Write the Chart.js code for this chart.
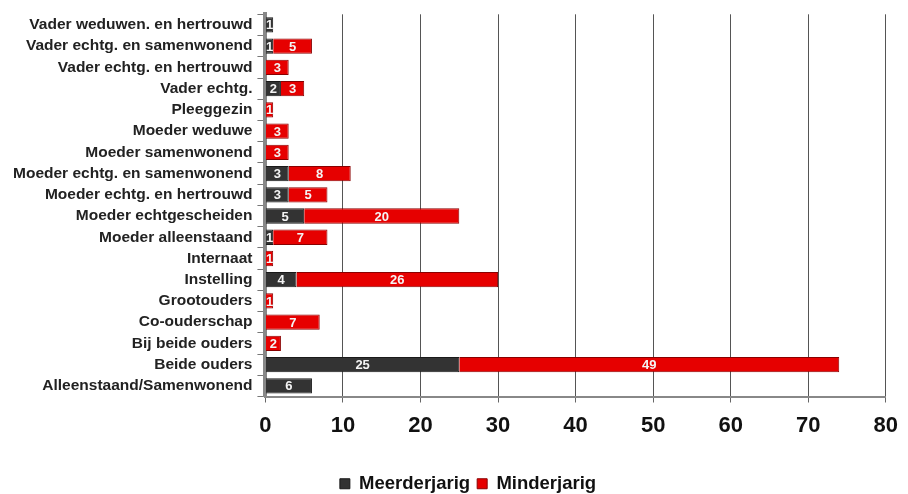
<!DOCTYPE html>
<html>
<head>
<meta charset="utf-8">
<script src="https://cdn.jsdelivr.net/npm/chart.js@4/dist/chart.umd.min.js"></script>
<style>
  html, body { margin: 0; padding: 0; background: #fff; }
  #wrap { width: 908px; height: 494px; position: relative; }
</style>
</head>
<body>
<div id="wrap"><canvas id="chart"></canvas></div>
<script>
// Categories top to bottom, as in the reference
const categories = [
  "Vader weduwen. en hertrouwd",
  "Vader echtg. en samenwonend",
  "Vader echtg. en hertrouwd",
  "Vader echtg.",
  "Pleeggezin",
  "Moeder weduwe",
  "Moeder samenwonend",
  "Moeder echtg. en samenwonend",
  "Moeder echtg. en hertrouwd",
  "Moeder echtgescheiden",
  "Moeder alleenstaand",
  "Internaat",
  "Instelling",
  "Grootouders",
  "Co-ouderschap",
  "Bij beide ouders",
  "Beide ouders",
  "Alleenstaand/Samenwonend"
]
const meerderjarig = [1, 1, 0, 2, 0, 0, 0, 3, 3, 5, 1, 0, 4, 0, 0, 0, 25, 6]
const minderjarig = [0, 5, 3, 3, 1, 3, 3, 8, 5, 20, 7, 1, 26, 1, 7, 2, 49, 0]
const xTicks = [0, 10, 20, 30, 40, 50, 60, 70, 80]

const font = "'Liberation Sans', Arial, sans-serif"

// Writes the value in white in the middle of each segment
const valueLabels = {
  id: "valueLabels",
  afterDatasetsDraw(chart) {
    const ctx = chart.ctx
    ctx.save()
    ctx.font = "bold 13px " + font
    ctx.fillStyle = "#f4f4f4"
    ctx.textAlign = "center"
    ctx.textBaseline = "middle"
    chart.data.datasets.forEach((ds, i) => {
      chart.getDatasetMeta(i).data.forEach((bar, j) => {
        const v = ds.data[j]
        if (!v) return
        const x = (bar.x + bar.base) / 2
        ctx.fillText(String(v), x, bar.y + 1)
      })
    })
    ctx.restore()
  }
}

// The legend in the original sits a bit right of the page centre
const legendShift = {
  id: "legendShift",
  afterLayout(chart) {
    chart.legend.left += 17
    chart.legend.right += 17
  }
}

new Chart(document.getElementById("chart"), {
  type: "bar",
  data: {
    labels: categories,
    datasets: [
      {
        label: "Meerderjarig",
        data: meerderjarig,
        backgroundColor: "#333333",
        borderColor: "#1a1a1a",
        borderWidth: 1,
        categoryPercentage: 0.72,
        barPercentage: 1
      },
      {
        label: "Minderjarig",
        data: minderjarig,
        backgroundColor: "#e60000",
        borderColor: "#8a0000",
        borderWidth: 1,
        categoryPercentage: 0.72,
        barPercentage: 1
      }
    ]
  },
  options: {
    indexAxis: "y",
    responsive: true,
    maintainAspectRatio: false,
    animation: false,
    layout: { padding: { top: 8, right: 14, bottom: -9, left: 8 } },
    plugins: {
      legend: {
        position: "bottom",
        labels: {
          boxWidth: 10,
          boxHeight: 10,
          padding: 7,
          color: "#111",
          font: { family: font, size: 18.5, weight: "bold" }
        }
      },
      tooltip: { enabled: false }
    },
    scales: {
      x: {
        stacked: true,
        min: 0,
        max: 80,
        afterBuildTicks: axis => { axis.ticks = xTicks.map(v => ({ value: v })) },
        grid: { color: "#555", lineWidth: 1, tickLength: 6, tickColor: "#666" },
        border: { color: "#888", width: 2 },
        ticks: {
          color: "#111",
          padding: 10,
          font: { family: font, size: 22, weight: "bold" }
        },
        afterFit: axis => { axis.height = 71 }
      },
      y: {
        stacked: true,
        grid: { display: true, drawOnChartArea: false, tickLength: 8, tickColor: "#777", offset: true },
        border: { color: "#888", width: 4 },
        ticks: {
          autoSkip: false,
          color: "#222",
          padding: 5,
          font: { family: font, size: 15.5, weight: "bold" }
        }
      }
    }
  },
  plugins: [valueLabels, legendShift]
})
</script>
</body>
</html>
